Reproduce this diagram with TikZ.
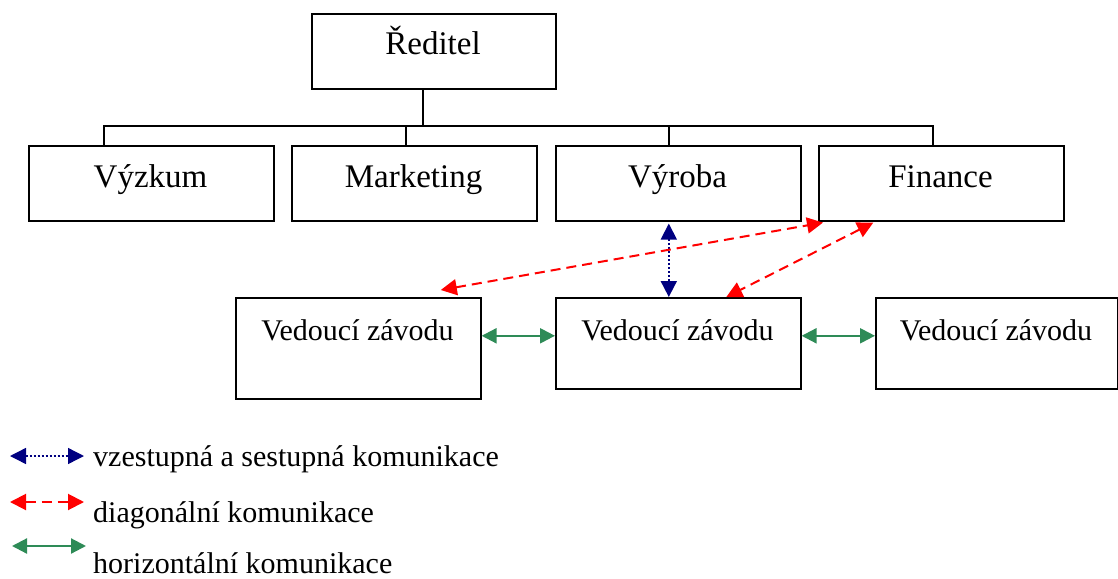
\documentclass[tikz,border=0pt]{standalone}
\usepackage{fontspec}
\setmainfont{Liberation Serif}
\usetikzlibrary{arrows.meta}
\definecolor{updown}{RGB}{0,0,128}
\definecolor{diag}{RGB}{255,0,0}
\definecolor{horiz}{RGB}{46,139,87}
\begin{document}
\begin{tikzpicture}[x=1pt,y=-1pt,
  box/.style={draw=black,line width=1.6pt,fill=white,inner sep=0pt,anchor=north west},
  bigtxt/.style={inner sep=0pt,anchor=base,font=\fontsize{33}{40}\selectfont},
  smalltxt/.style={inner sep=0pt,anchor=base,font=\fontsize{30}{36}\selectfont},
  legtxt/.style={inner sep=0pt,anchor=base west,font=\fontsize{30}{36}\selectfont},
  tree/.style={draw=black,line width=1.4pt},
  bigtip/.style={{Triangle[length=16pt,width=16pt]}-{Triangle[length=16pt,width=16pt]}},
  vert/.style={draw=updown,line width=1.8pt,dash pattern=on 2pt off 2pt,bigtip},
  vertleg/.style={draw=updown,line width=1.4pt,dash pattern=on 2pt off 2pt,bigtip},
  diagarr/.style={draw=diag,line width=2pt,dash pattern=on 10pt off 6pt,bigtip},
  horarr/.style={draw=horiz,line width=2.2pt,
    {Triangle[length=15pt,width=15pt]}-{Triangle[length=15pt,width=15pt]}}]
\useasboundingbox (0,0) rectangle (1118,578);

% top management
\node[box,minimum width=244pt,minimum height=75pt] (ceo) at (311,13) {};
\node[bigtxt] (ceot) at (433,55) {Ředitel};

% departments
\node[box,minimum width=245pt,minimum height=75pt] (vyz) at (28,145) {};
\node[box,minimum width=245pt,minimum height=75pt] (mkt) at (291,145) {};
\node[box,minimum width=245pt,minimum height=75pt] (vyr) at (555,145) {};
\node[box,minimum width=245pt,minimum height=75pt] (fin) at (818,145) {};
\node[bigtxt] (vyzt) at (150.5,187) {Výzkum};
\node[bigtxt] (mktt) at (413.5,187) {Marketing};
\node[bigtxt] (vyrt) at (677.5,187) {Výroba};
\node[bigtxt] (fint) at (940.5,187) {Finance};

% plant managers
\node[box,minimum width=245pt,minimum height=101pt] (ved1) at (235,297) {};
\node[box,minimum width=245pt,minimum height=91pt] (ved2) at (555,297) {};
\node[box,minimum width=242pt,minimum height=91pt] (ved3) at (875,297) {};
\node[smalltxt] (ved1t) at (357.5,340) {Vedoucí závodu};
\node[smalltxt] (ved2t) at (677.5,340) {Vedoucí závodu};
\node[smalltxt] (ved3t) at (996,340) {Vedoucí závodu};

% organisation tree
\coordinate (bus) at (423,126);
\draw[tree] (ceo.south -| bus) -- (bus);
\draw[tree] ([xshift=-47.5pt]vyz.north) |- (bus) -| ([xshift=-8.5pt]fin.north);
\draw[tree] ([xshift=-8.5pt]mkt.north) -- ([xshift=-8.5pt]mkt.north |- bus);
\draw[tree] ([xshift=-9.5pt]vyr.north) -- ([xshift=-9.5pt]vyr.north |- bus);

% communication flows
\draw[vert] ([xshift=-9.5pt,yshift=-2pt]vyr.south) -- ([xshift=-9.5pt]ved2.north);
\draw[diagarr] ([xshift=82.5pt,yshift=7pt]ved1.north) -- ([xshift=5pt,yshift=-1pt]fin.south west);
\draw[diagarr] ([xshift=-68pt,yshift=-1pt]fin.south) -- ([xshift=48pt]ved2.north);
\draw[horarr] ([yshift=7.5pt]ved2.west -| ved1.east) -- ([yshift=7.5pt]ved2.west);
\draw[horarr] ([yshift=7.5pt]ved2.east) -- ([yshift=7.5pt]ved2.east -| ved3.west);

% legend
\coordinate (lb1) at (10,456); \coordinate (lb2) at (84,456);
\coordinate (lr1) at (10,502); \coordinate (lr2) at (84,502);
\coordinate (lg1) at (12,546); \coordinate (lg2) at (86,546);
\draw[vertleg] (lb1) -- (lb2);
\draw[diagarr] (lr1) -- (lr2);
\draw[horarr] (lg1) -- (lg2);
\node[legtxt] (leg1) at (93,466) {vzestupná a sestupná komunikace};
\node[legtxt] (leg2) at (93,522) {diagonální komunikace};
\node[legtxt] (leg3) at (93,573) {horizontální komunikace};
\end{tikzpicture}
\end{document}
